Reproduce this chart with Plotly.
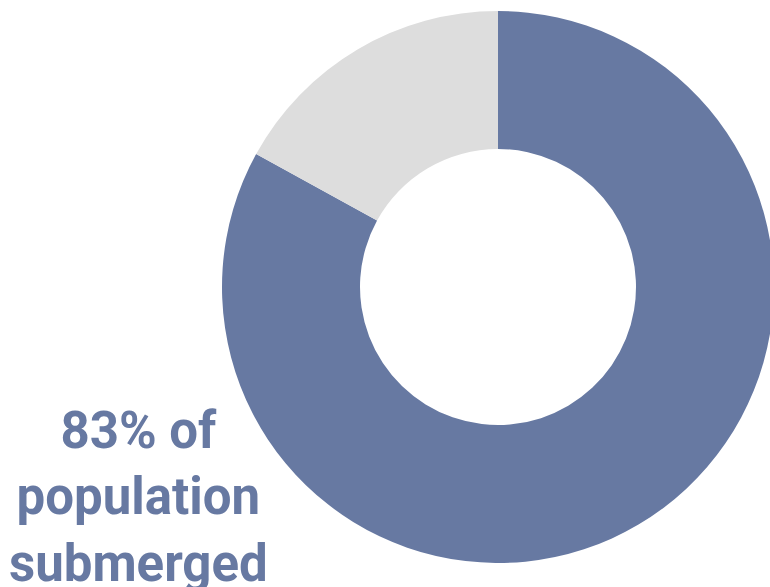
import plotly.graph_objects as go

# Share of population affected
labels = ["Submerged", "Not submerged"]
values = [83, 17]
colors = ["#6779a2", "#dddddd"]

caption = "83% of<br>population<br>submerged"

W, H = 780, 587

fig = go.Figure(
    go.Pie(
        labels=labels,
        values=values,
        hole=0.5,
        sort=False,
        direction="clockwise",
        rotation=0,
        marker=dict(colors=colors, line=dict(width=0)),
        textinfo="none",
        hoverinfo="label+percent",
        domain=dict(x=[222 / W, 774 / W], y=[24 / H, 576 / H]),
        showlegend=False,
    )
)

fig.add_annotation(
    text=caption,
    xref="paper", yref="paper",
    x=138 / W, y=(H - 497) / H,
    xanchor="center", yanchor="middle",
    showarrow=False,
    align="center",
    font=dict(family="Roboto", size=51, color="#6779a2", weight="bold"),
)

fig.update_layout(
    width=W, height=H,
    margin=dict(l=0, r=0, t=0, b=0),
    paper_bgcolor="white",
    plot_bgcolor="white",
)

fig.write_html(
    "out.html",
    post_script="document.body.style.overflow='hidden';document.body.style.margin='0';",
)
